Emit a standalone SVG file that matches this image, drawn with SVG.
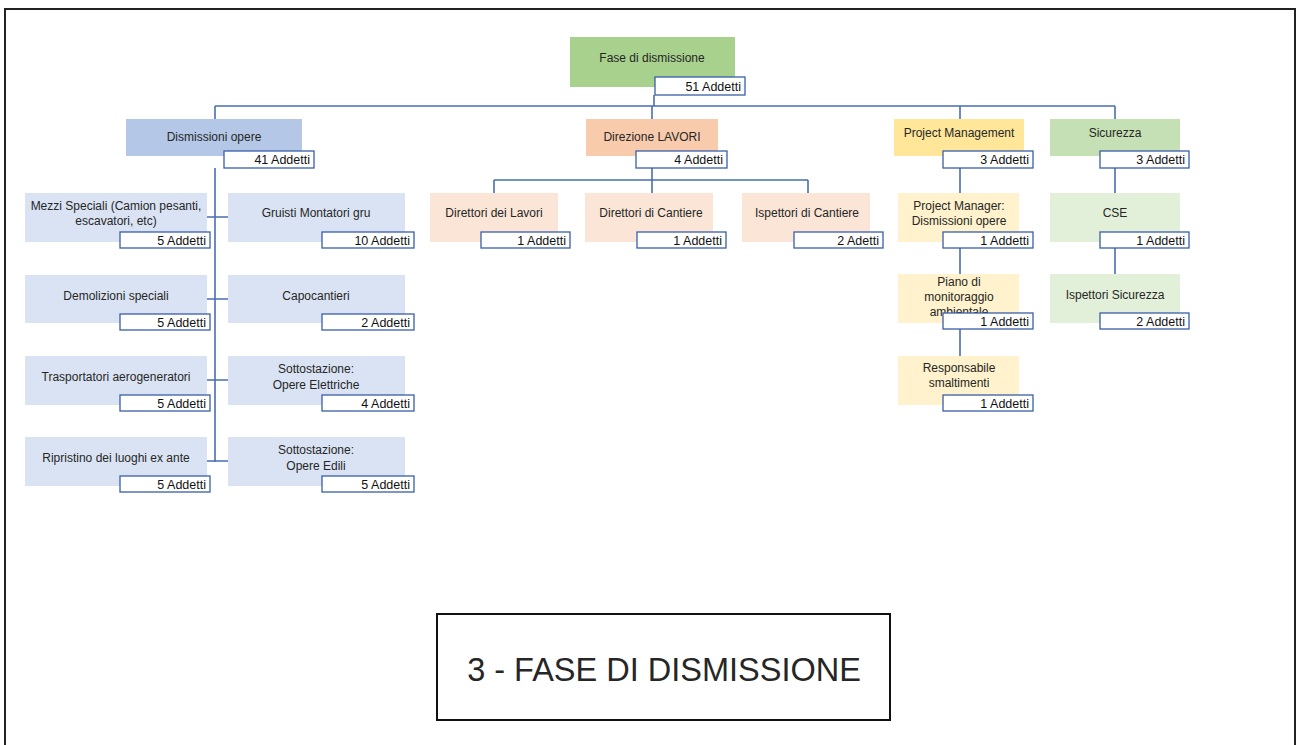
<svg xmlns="http://www.w3.org/2000/svg" width="1297" height="745" viewBox="0 0 1297 745">
<style>
text{font-family:"Liberation Sans",Arial,sans-serif;fill:#262626}
.t{font-size:12px;text-anchor:middle}
.l{font-size:12.5px;text-anchor:end;fill:#111}
.lb{fill:#fff;stroke:#3a5ea8;stroke-width:1.3}
.c{stroke:#4a6fb0;stroke-width:1.6;fill:none}
.b1{fill:#b4c7e7}.b2{fill:#dae3f3}
.o1{fill:#f8cbad}.o2{fill:#fbe5d6}
.y1{fill:#ffe699}.y2{fill:#fff2cc}
.g1{fill:#a9d18e}.g2{fill:#c5e0b4}.g3{fill:#e2f0d9}
</style>
<rect x="0" y="0" width="1297" height="745" fill="#fff"/>
<path d="M5,745 V9 H1295 V745" fill="none" stroke="#222" stroke-width="2"/>
<g id="connectors" class="c">
<path d="M654,95 V106 M215,106 H1115 M215,106 V119 M652,106 V119 M960,106 V119 M1115,106 V119"/>
<path d="M215,168 V462 M207,217 H228 M207,299 H228 M207,380 H228 M207,461 H228"/>
<path d="M652,168 V180 M494,180 H808 M494,180 V193 M652,180 V193 M808,180 V193"/>
<path d="M960,168 V193 M960,248 V274 M960,329 V356"/>
<path d="M1115,168 V193 M1115,248 V274"/>
</g>
<g id="root"><rect class="g1" x="570" y="37" width="165" height="50"/><text class="t" x="652" y="62">Fase di dismissione</text><rect class="lb" x="655" y="77" width="90" height="18"/><text class="l" x="741" y="91">51 Addetti</text></g>
<g id="dismissioni"><rect class="b1" x="126" y="119" width="176" height="37"/><text class="t" x="214" y="141">Dismissioni opere</text><rect class="lb" x="224" y="151" width="90" height="17"/><text class="l" x="310" y="164">41 Addetti</text></g>
<g id="mezzi"><rect class="b2" x="25" y="193" width="182" height="49"/><text class="t" x="116" y="210">Mezzi Speciali (Camion pesanti,</text><text class="t" x="116" y="225">escavatori, etc)</text><rect class="lb" x="120" y="232" width="90" height="16"/><text class="l" x="206" y="245">5 Addetti</text></g>
<g id="gruisti"><rect class="b2" x="228" y="193" width="177" height="49"/><text class="t" x="316" y="217">Gruisti Montatori gru</text><rect class="lb" x="322" y="232" width="92" height="16"/><text class="l" x="410" y="245">10 Addetti</text></g>
<g id="demolizioni"><rect class="b2" x="25" y="275" width="182" height="48"/><text class="t" x="116" y="300">Demolizioni speciali</text><rect class="lb" x="120" y="314" width="90" height="16"/><text class="l" x="206" y="327">5 Addetti</text></g>
<g id="capocantieri"><rect class="b2" x="228" y="275" width="177" height="48"/><text class="t" x="316" y="300">Capocantieri</text><rect class="lb" x="322" y="314" width="92" height="16"/><text class="l" x="410" y="327">2 Addetti</text></g>
<g id="trasportatori"><rect class="b2" x="25" y="356" width="182" height="49"/><text class="t" x="116" y="381">Trasportatori aerogeneratori</text><rect class="lb" x="120" y="395" width="90" height="16"/><text class="l" x="206" y="408">5 Addetti</text></g>
<g id="elettriche"><rect class="b2" x="228" y="356" width="177" height="49"/><text class="t" x="316" y="373">Sottostazione:</text><text class="t" x="316" y="389">Opere Elettriche</text><rect class="lb" x="322" y="395" width="92" height="16"/><text class="l" x="410" y="408">4 Addetti</text></g>
<g id="ripristino"><rect class="b2" x="25" y="437" width="182" height="49"/><text class="t" x="116" y="462">Ripristino dei luoghi ex ante</text><rect class="lb" x="120" y="476" width="90" height="16"/><text class="l" x="206" y="489">5 Addetti</text></g>
<g id="edili"><rect class="b2" x="228" y="437" width="177" height="49"/><text class="t" x="316" y="454">Sottostazione:</text><text class="t" x="316" y="470">Opere Edili</text><rect class="lb" x="322" y="476" width="92" height="16"/><text class="l" x="410" y="489">5 Addetti</text></g>
<g id="direzione"><rect class="o1" x="586" y="119" width="132" height="37"/><text class="t" x="652" y="141">Direzione LAVORI</text><rect class="lb" x="636" y="151" width="91" height="17"/><text class="l" x="723" y="164">4 Addetti</text></g>
<g id="direttori-lavori"><rect class="o2" x="430" y="193" width="128" height="49"/><text class="t" x="494" y="217">Direttori dei Lavori</text><rect class="lb" x="481" y="232" width="89" height="16"/><text class="l" x="566" y="245">1 Addetti</text></g>
<g id="direttori-cantiere"><rect class="o2" x="585" y="193" width="128" height="49"/><text class="t" x="651" y="217">Direttori di Cantiere</text><rect class="lb" x="637" y="232" width="89" height="16"/><text class="l" x="722" y="245">1 Addetti</text></g>
<g id="ispettori-cantiere"><rect class="o2" x="742" y="193" width="128" height="49"/><text class="t" x="807" y="217">Ispettori di Cantiere</text><rect class="lb" x="794" y="232" width="89" height="16"/><text class="l" x="879" y="245">2 Adetti</text></g>
<g id="project-management"><rect class="y1" x="894" y="119" width="130" height="37"/><text class="t" x="959" y="137">Project Management</text><rect class="lb" x="943" y="151" width="90" height="17"/><text class="l" x="1029" y="164">3 Addetti</text></g>
<g id="project-manager"><rect class="y2" x="898" y="193" width="121" height="49"/><text class="t" x="959" y="210">Project Manager:</text><text class="t" x="959" y="225">Dismissioni opere</text><rect class="lb" x="943" y="232" width="90" height="16"/><text class="l" x="1029" y="245">1 Addetti</text></g>
<g id="piano"><rect class="y2" x="898" y="274" width="121" height="49"/><text class="t" x="959" y="286">Piano di</text><text class="t" x="959" y="301">monitoraggio</text><text class="t" x="959" y="316">ambientale</text><rect class="lb" x="943" y="313" width="90" height="16"/><text class="l" x="1029" y="326">1 Addetti</text></g>
<g id="responsabile"><rect class="y2" x="898" y="356" width="121" height="49"/><text class="t" x="959" y="372">Responsabile</text><text class="t" x="959" y="387">smaltimenti</text><rect class="lb" x="943" y="395" width="90" height="16"/><text class="l" x="1029" y="408">1 Addetti</text></g>
<g id="sicurezza"><rect class="g2" x="1050" y="119" width="130" height="37"/><text class="t" x="1115" y="137">Sicurezza</text><rect class="lb" x="1100" y="151" width="89" height="17"/><text class="l" x="1185" y="164">3 Addetti</text></g>
<g id="cse"><rect class="g3" x="1050" y="193" width="130" height="49"/><text class="t" x="1115" y="217">CSE</text><rect class="lb" x="1100" y="232" width="89" height="16"/><text class="l" x="1185" y="245">1 Addetti</text></g>
<g id="ispettori-sicurezza"><rect class="g3" x="1050" y="274" width="130" height="49"/><text class="t" x="1115" y="299">Ispettori Sicurezza</text><rect class="lb" x="1100" y="313" width="89" height="16"/><text class="l" x="1185" y="326">2 Addetti</text></g>
<g id="title"><rect x="437" y="614" width="453" height="106" fill="#fff" stroke="#111" stroke-width="2"/><text x="664" y="681" font-size="32.5" text-anchor="middle" fill="#111">3 - FASE DI DISMISSIONE</text></g>
</svg>
